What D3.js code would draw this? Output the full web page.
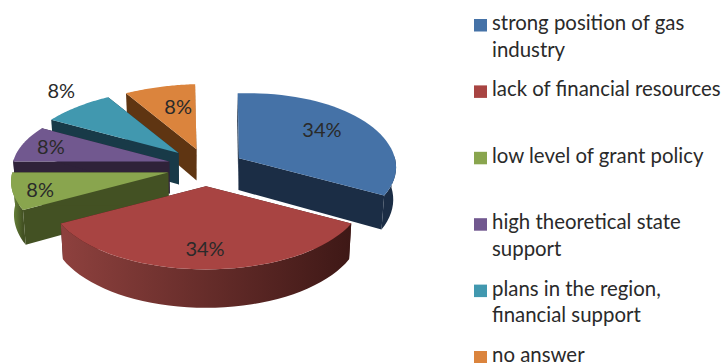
<!DOCTYPE html>
<html>
<head>
<meta charset="utf-8">
<script src="https://cdn.jsdelivr.net/npm/d3@7"></script>
<style>
html,body{margin:0;padding:0;background:#fff;overflow:hidden}
svg{display:block}
text{font-family:Lato,"Open Sans",sans-serif;fill:#2a2a2a}
</style>
</head>
<body>
<svg id="chart" width="723" height="363"></svg>
<script>
// Survey answers, in percent
const categories = [
  ["strong position of gas", "industry"],
  ["lack of financial resources"],
  ["low level of grant policy"],
  ["high theoretical state", "support"],
  ["plans in the region,", "financial support"],
  ["no answer"]
];
const values = [34, 34, 8, 8, 8, 8];

// Colours of the top faces, the cut faces and the rim (left, right)
const topColors = ["#4572a7", "#a84442", "#89a54e", "#71588f", "#4198af", "#db843d"];
const cutColors = ["#1b2d45", "#3f1a18", "#435123", "#2f2239", "#183a48", "#5f3512"];
const rimColors = [["#1b2d45", "#1b2d45"], ["#8e413e", "#3e1816"], ["#6f8d3f", "#435123"],
                   ["#2f2239", "#2f2239"], ["#183a48", "#183a48"], ["#5f3512", "#5f3512"]];

// Small pixel adjustments of each exploded slice
const sliceNudge = [[0, 0], [0, 0], [0, 0], [1, -2], [1, -2.5], [2.5, -1.5]];
// Label placement: radius along the slice bisector, then a pixel nudge
const labelRadius = [0.7, 0.76, 0.7, 0.7, 1.2, 0.6];
const labelNudge = [[-5, -3], [-1, 0], [-19, 4], [-16, -2], [4.5, -6.5], [3.5, -5]];

const svg = d3.select("#chart");
const defs = svg.append("defs");

// Tilted pie: unit coordinates (u across, v towards the viewer) to pixels
const spreadX = d3.scaleLinear().domain([-1, 1]).range([-156, 156]);
const spreadY = d3.scaleLinear().domain([-1, 1]).range([-73, 73]);
const originX = 206, originY = 168, explode = 0.25, perspective = 0.122, backShift = 7.5;

function rimOffset(angle) {
  const u = Math.sin(angle), v = -Math.cos(angle), k = 1 - perspective * v;
  return [spreadX(u / k) + (v < 0 ? backShift * v * v : 0), spreadY(v / k)];
}
// Extrusion: the lower face is a little narrower and the depth grows towards the viewer
function lower(p) {
  return [originX + (p[0] - originX) * 0.985, p[1] + 32.5 + 0.06 * (p[1] - 170)];
}

const slices = d3.pie().sort(null).value(d => d)
  .startAngle(-3.6 * Math.PI / 180)
  .endAngle((360 - 3.6) * Math.PI / 180)(values);

const line = d3.line();
const geometry = slices.map((s, i) => {
  const mid = (s.startAngle + s.endAngle) / 2;
  const apex = [originX + spreadX(explode * Math.sin(mid)) + sliceNudge[i][0],
                originY + spreadY(-explode * Math.cos(mid)) + sliceNudge[i][1]];
  const arc = d3.range(0, 41).map(t => {
    const a = s.startAngle + (s.endAngle - s.startAngle) * t / 40;
    const o = rimOffset(a);
    return { a, p: [apex[0] + o[0], apex[1] + o[1]] };
  });
  return { i, mid, apex, arc };
});

const drawOrder = geometry.slice().sort((a, b) => a.apex[1] - b.apex[1]);

drawOrder.forEach(g => {
  const rimPts = g.arc.map(d => d.p);
  const first = rimPts[0], last = rimPts[rimPts.length - 1];
  const group = svg.append("g");

  // Cut faces
  [first, last].forEach(end => {
    const quad = [g.apex, end, lower(end), lower(g.apex)];
    group.append("path").attr("d", line(quad) + "Z").attr("fill", cutColors[g.i]);
  });

  // Rim, front half only
  const front = g.arc.filter(d => -Math.cos(d.a) > -0.04).map(d => d.p);
  if (front.length > 1) {
    const xs = d3.extent(front, d => d[0]);
    const id = "rim" + g.i;
    const grad = defs.append("linearGradient").attr("id", id)
      .attr("gradientUnits", "userSpaceOnUse")
      .attr("x1", xs[0]).attr("x2", xs[1]).attr("y1", 0).attr("y2", 0);
    grad.append("stop").attr("offset", 0).attr("stop-color", rimColors[g.i][0]);
    grad.append("stop").attr("offset", 1).attr("stop-color", rimColors[g.i][1]);
    const wall = front.concat(front.map(lower).reverse());
    group.append("path").attr("d", line(wall) + "Z").attr("fill", `url(#${id})`);
  }

  // Top face
  group.append("path")
    .attr("d", line([g.apex].concat(rimPts)) + "Z")
    .attr("fill", topColors[g.i]);
});

// Percentage labels
geometry.forEach(g => {
  const o = rimOffset(g.mid);
  svg.append("text")
    .attr("x", g.apex[0] + o[0] * labelRadius[g.i] + labelNudge[g.i][0])
    .attr("y", g.apex[1] + o[1] * labelRadius[g.i] + labelNudge[g.i][1])
    .attr("dy", "0.35em")
    .attr("text-anchor", "middle")
    .attr("font-size", 20)
    .text(values[g.i] + "%");
});

// Legend
const legendY = d3.scalePoint().domain(d3.range(categories.length)).range([19, 351]);
const legend = svg.append("g");
categories.forEach((lines, i) => {
  legend.append("rect")
    .attr("x", 474).attr("y", legendY(i))
    .attr("width", 13).attr("height", 12.5)
    .attr("fill", topColors[i]);
  lines.forEach((t, j) => {
    legend.append("text")
      .attr("x", 492).attr("y", legendY(i) + 11 + j * 26.5)
      .attr("font-size", 20.4)
      .text(t);
  });
});
</script>
</body>
</html>
